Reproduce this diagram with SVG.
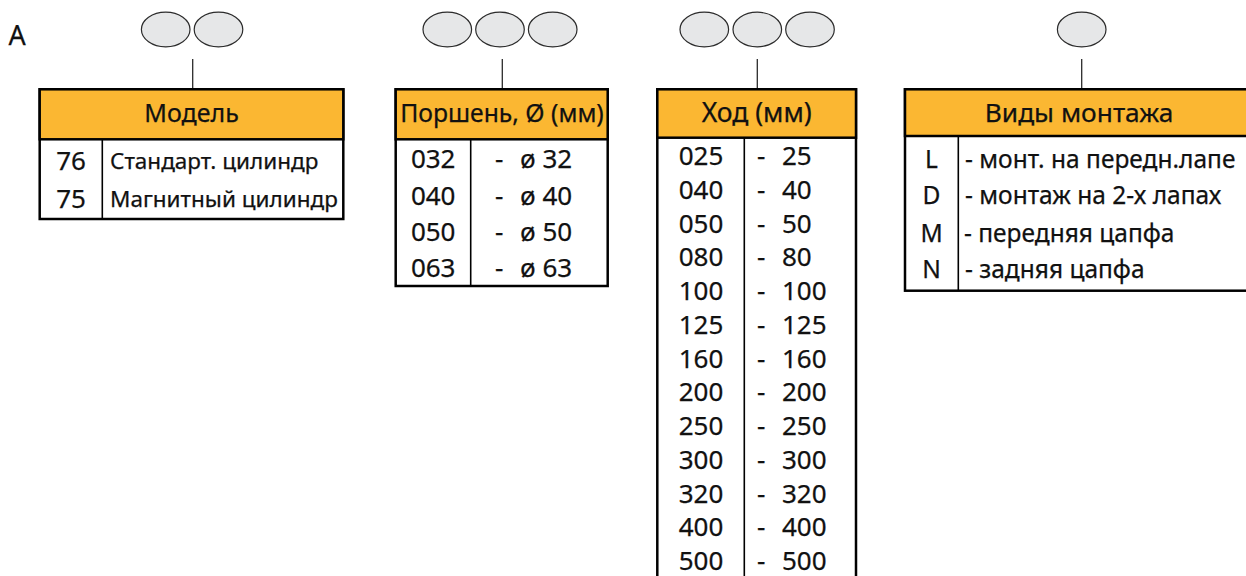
<svg xmlns="http://www.w3.org/2000/svg" width="1246" height="576" viewBox="0 0 1246 576">
<style>
.bg{fill:#ffffff}
.ell{fill:#e6e7e8;stroke:#2b2b2b;stroke-width:1.2}
.con{stroke:#2b2b2b;stroke-width:1.3;fill:none}
.box{fill:#ffffff;stroke:#000;stroke-width:2.5}
.hdr{fill:#fbb732;stroke:#000;stroke-width:2.5}
.div{stroke:#000;stroke-width:1.6}
text{font-family:"Noto Sans","Open Sans","DejaVu Sans",sans-serif;fill:#111;stroke:#111;stroke-width:0.25}
.h{font-size:25px;text-anchor:middle}
.n{font-size:26px;text-anchor:middle}
.v{font-size:26px}
.d{font-size:22.5px}
.m{font-size:24.5px}
</style>
<rect class="bg" x="0" y="0" width="1246" height="576"/>
<text x="8.5" y="44.5" style="font-size:27px">A</text>

<g id="connectors">
<line class="con" x1="192.7" y1="59" x2="192.7" y2="89"/>
<line class="con" x1="502.3" y1="59" x2="502.3" y2="89"/>
<line class="con" x1="757.3" y1="59" x2="757.3" y2="89"/>
<line class="con" x1="1081.7" y1="59" x2="1081.7" y2="89"/>
</g>

<g id="code-model">
<ellipse class="ell" cx="165.7" cy="29.5" rx="24.3" ry="17.3"/>
<ellipse class="ell" cx="218.5" cy="29.5" rx="24.3" ry="17.3"/>
</g>
<g id="code-piston">
<ellipse class="ell" cx="447.3" cy="29.5" rx="24.3" ry="17.3"/>
<ellipse class="ell" cx="500" cy="29.5" rx="24.3" ry="17.3"/>
<ellipse class="ell" cx="552.7" cy="29.5" rx="24.3" ry="17.3"/>
</g>
<g id="code-stroke">
<ellipse class="ell" cx="704.3" cy="29.5" rx="24.3" ry="17.3"/>
<ellipse class="ell" cx="757.3" cy="29.5" rx="24.3" ry="17.3"/>
<ellipse class="ell" cx="810" cy="29.5" rx="24.3" ry="17.3"/>
</g>
<g id="code-mount">
<ellipse class="ell" cx="1081.7" cy="29.5" rx="24.3" ry="17.3"/>
</g>

<g id="table-model">
<rect class="box" x="39.7" y="89.3" width="303.6" height="129.7"/>
<rect class="hdr" x="39.7" y="89.3" width="303.6" height="50"/>
<line class="div" x1="102.3" y1="139.3" x2="102.3" y2="219"/>
<text class="h" x="191.5" y="122">Модель</text>
<text class="n" x="71" y="170">76</text>
<text class="d" x="110" y="169">Стандарт. цилиндр</text>
<text class="n" x="71" y="208">75</text>
<text class="d" x="110" y="207">Магнитный цилиндр</text>
</g>

<g id="table-piston">
<rect class="box" x="395.7" y="89.3" width="212" height="196.7"/>
<rect class="hdr" x="395.7" y="89.3" width="212" height="50"/>
<line class="div" x1="470.7" y1="139.3" x2="470.7" y2="286"/>
<text class="h" x="502" y="122" style="font-size:24.7px">Поршень, Ø (мм)</text>
<text class="n" x="433.2" y="168">032</text>
<text class="v" x="495" y="168">-</text><text class="v" x="520" y="168">ø 32</text>
<text class="n" x="433.2" y="204.5">040</text>
<text class="v" x="495" y="204.5">-</text><text class="v" x="520" y="204.5">ø 40</text>
<text class="n" x="433.2" y="241">050</text>
<text class="v" x="495" y="241">-</text><text class="v" x="520" y="241">ø 50</text>
<text class="n" x="433.2" y="277">063</text>
<text class="v" x="495" y="277">-</text><text class="v" x="520" y="277">ø 63</text>
</g>

<g id="table-stroke">
<rect class="box" x="657.3" y="89.3" width="198.7" height="520"/>
<rect class="hdr" x="657.3" y="89.3" width="198.7" height="48.4"/>
<line class="div" x1="744.3" y1="137.7" x2="744.3" y2="610"/>
<text class="h" x="756.7" y="122" style="font-size:26.5px">Ход (мм)</text>
<text class="n" x="701" y="165">025</text>
<text class="n" x="701" y="198.75">040</text>
<text class="n" x="701" y="232.5">050</text>
<text class="n" x="701" y="266.25">080</text>
<text class="n" x="701" y="300">100</text>
<text class="n" x="701" y="333.75">125</text>
<text class="n" x="701" y="367.5">160</text>
<text class="n" x="701" y="401.25">200</text>
<text class="n" x="701" y="435">250</text>
<text class="n" x="701" y="468.75">300</text>
<text class="n" x="701" y="502.5">320</text>
<text class="n" x="701" y="536.25">400</text>
<text class="n" x="701" y="570">500</text>
<text class="v" x="757" y="165">-</text><text class="v" x="782" y="165">25</text>
<text class="v" x="757" y="198.75">-</text><text class="v" x="782" y="198.75">40</text>
<text class="v" x="757" y="232.5">-</text><text class="v" x="782" y="232.5">50</text>
<text class="v" x="757" y="266.25">-</text><text class="v" x="782" y="266.25">80</text>
<text class="v" x="757" y="300">-</text><text class="v" x="782" y="300">100</text>
<text class="v" x="757" y="333.75">-</text><text class="v" x="782" y="333.75">125</text>
<text class="v" x="757" y="367.5">-</text><text class="v" x="782" y="367.5">160</text>
<text class="v" x="757" y="401.25">-</text><text class="v" x="782" y="401.25">200</text>
<text class="v" x="757" y="435">-</text><text class="v" x="782" y="435">250</text>
<text class="v" x="757" y="468.75">-</text><text class="v" x="782" y="468.75">300</text>
<text class="v" x="757" y="502.5">-</text><text class="v" x="782" y="502.5">320</text>
<text class="v" x="757" y="536.25">-</text><text class="v" x="782" y="536.25">400</text>
<text class="v" x="757" y="570">-</text><text class="v" x="782" y="570">500</text>
</g>

<g id="table-mount">
<rect class="box" x="905" y="89.3" width="360" height="201.4"/>
<rect class="hdr" x="905" y="89.3" width="360" height="46.7"/>
<line class="div" x1="958.3" y1="136" x2="958.3" y2="290.7"/>
<text class="h" x="1079" y="122" style="font-size:26.3px">Виды монтажа</text>
<text class="m" x="931.5" y="167.5" text-anchor="middle">L</text>
<text class="m" x="965" y="167.5">- монт. на передн.лапе</text>
<text class="m" x="931.5" y="203.5" text-anchor="middle">D</text>
<text class="m" x="965" y="203.5">- монтаж на 2-х лапах</text>
<text class="m" x="931.5" y="241.5" text-anchor="middle">M</text>
<text class="m" x="964" y="241.5">- передняя цапфа</text>
<text class="m" x="931.5" y="278" text-anchor="middle">N</text>
<text class="m" x="965" y="278">- задняя цапфа</text>
</g>
</svg>
